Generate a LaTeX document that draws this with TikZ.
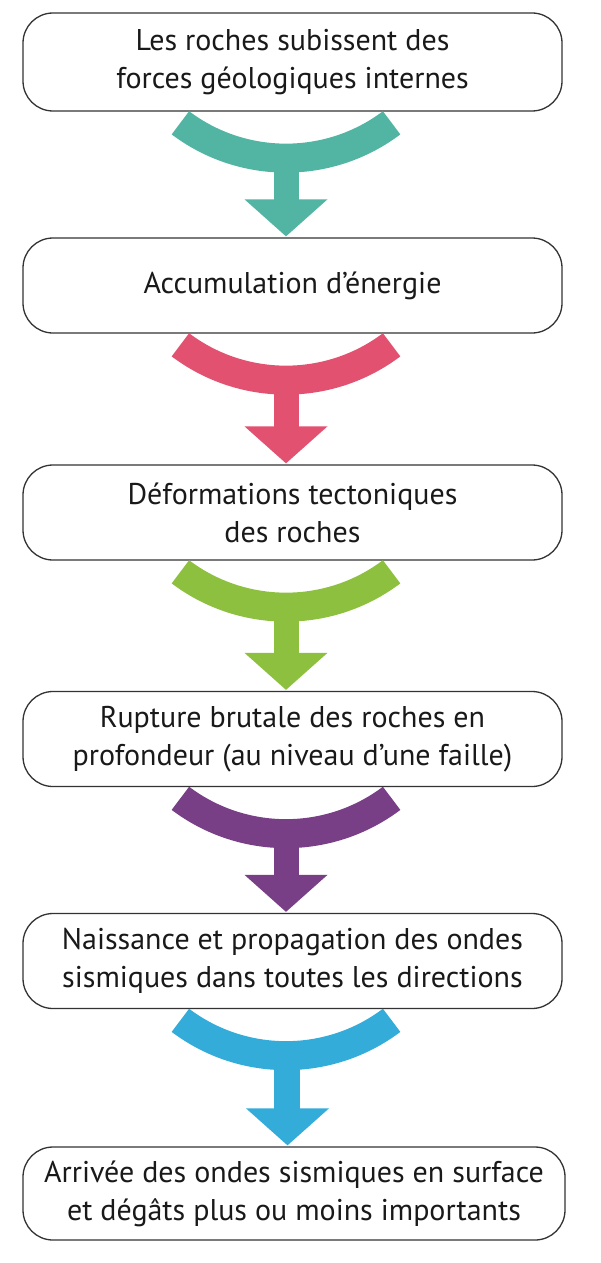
\documentclass[tikz,border=0pt]{standalone}
\usepackage{fontspec}
\setmainfont{PT Sans}
\usetikzlibrary{calc}

\definecolor{tealarrow}{RGB}{82,180,162}
\definecolor{pinkarrow}{RGB}{226,82,112}
\definecolor{greenarrow}{RGB}{141,192,63}
\definecolor{purplearrow}{RGB}{120,62,134}
\definecolor{bluearrow}{RGB}{52,172,218}

\tikzset{
  stage/.style={draw=black!80, line width=0.65pt, rounded corners=15pt,
    align=center, minimum width=269.5pt, minimum height=47.5pt, inner sep=0pt,
    text=black!90, font=\fontsize{15}{19}\selectfont},
}

% curved arrow from #1 down to #2, colour #3
\newcommand{\bendarrow}[3]{%
  \fill[#3] ($(#1.south)+(-6.5,129)+(-127:161)$) arc[start angle=-127, end angle=-53, radius=161]
    -- ++(-53:29) arc[start angle=-53, end angle=-127, radius=190] -- cycle;
  \fill[#3] ($(#1.south)+(-19,-55)$) rectangle ($(#2.north)+(6,37)$);
  \fill[#3] ($(#2.north)+(-48,38)$) -- ($(#2.north)+(35,38)$) -- ($(#2.north)+(-6.5,1)$) -- cycle;
}

\begin{document}
\begin{tikzpicture}[x=0.5pt,y=0.5pt]
  \useasboundingbox (0,0) rectangle (600,-1263);

  % the six stages
  \node[stage, minimum height=49pt] (forces) at (292.5,-62)
    {Les roches subissent des\\forces géologiques internes};
  \node[stage] (energie) at (292.5,-285.5) {Accumulation d’énergie};
  \node[stage] (deformation) at (292.5,-512.5)
    {Déformations tectoniques\\des roches};
  \node[stage] (rupture) at (292.5,-739)
    {Rupture brutale des roches en\\profondeur (au niveau d’une faille)};
  \node[stage] (ondes) at (292.5,-961)
    {Naissance et propagation des ondes\\sismiques dans toutes les directions};
  \node[stage, minimum width=271pt, minimum height=46.5pt] (surface) at (294,-1193.5)
    {Arrivée des ondes sismiques en surface\\et dégâts plus ou moins importants};

  % arrows between them
  \bendarrow{forces}{energie}{tealarrow}
  \bendarrow{energie}{deformation}{pinkarrow}
  \bendarrow{deformation}{rupture}{greenarrow}
  \bendarrow{rupture}{ondes}{purplearrow}
  \bendarrow{ondes}{surface}{bluearrow}
\end{tikzpicture}
\end{document}
